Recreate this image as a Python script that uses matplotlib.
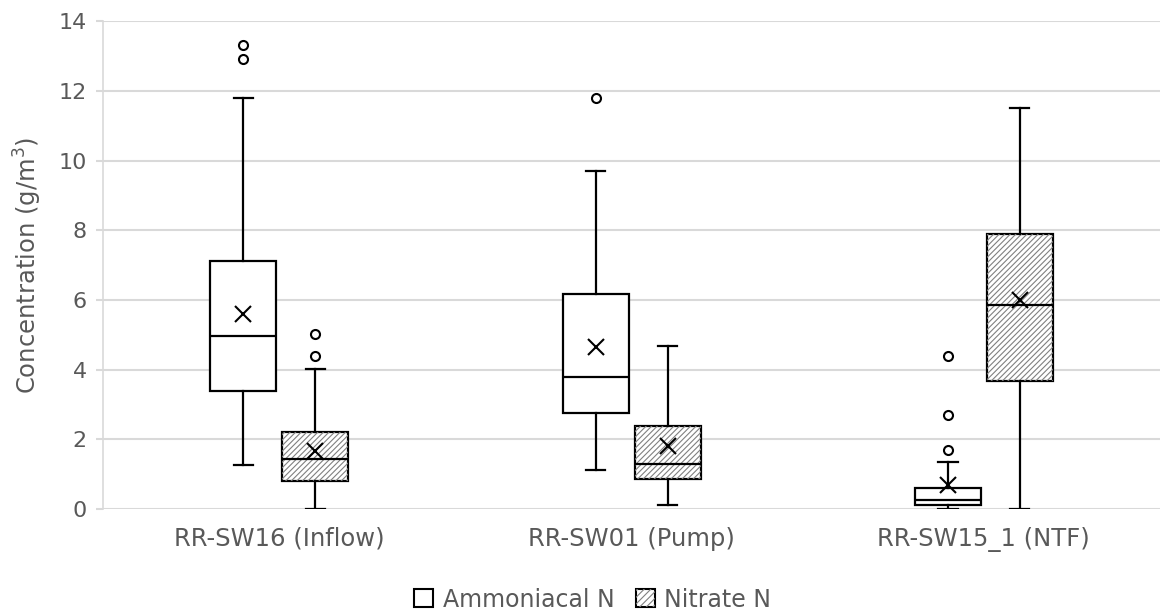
import numpy as np
import matplotlib.pyplot as plt
from matplotlib.patches import Patch, PathPatch
from matplotlib.legend_handler import HandlerTuple

# Datos (g/m3)
categories = ["RR-SW16 (Inflow)", "RR-SW01 (Pump)", "RR-SW15_1 (NTF)"]

amm_q1 = [3.39, 2.75, 0.10]
amm_med = [4.95, 3.80, 0.24]
amm_q3 = [7.12, 6.17, 0.61]
amm_lo = [1.26, 1.11, 0.00]
amm_hi = [11.80, 9.71, 1.33]
amm_mean = [5.60, 4.64, 0.69]
amm_out = [[12.91, 13.33], [11.81], [1.70, 2.70, 4.40]]

nit_q1 = [0.81, 0.85, 3.66]
nit_med = [1.43, 1.28, 5.86]
nit_q3 = [2.20, 2.39, 7.88]
nit_lo = [0.00, 0.11, 0.00]
nit_hi = [4.01, 4.69, 11.51]
nit_mean = [1.65, 1.81, 6.00]
nit_out = [[4.40, 5.01], [], []]

TEXT = "#595959"
GRID = "#d9d9d9"
HATCH = "#808080"

plt.rcParams["font.family"] = ["DejaVu Sans"]
plt.rcParams["hatch.linewidth"] = 0.8


def make_stats(q1, med, q3, lo, hi, mean, out):
    stats = []
    for i in range(len(q1)):
        stats.append({"q1": q1[i], "med": med[i], "q3": q3[i],
                      "whislo": lo[i], "whishi": hi[i],
                      "mean": mean[i], "fliers": out[i]})
    return stats


fig = plt.figure(figsize=(11.6, 6.13), dpi=100)
ax = fig.add_axes([0.089, 0.170, 0.911, 0.795])

x = np.arange(len(categories))
offset = 0.102
width = 0.1875

common = dict(
    widths=width, showmeans=True, patch_artist=True, capwidths=0.055,
    boxprops=dict(facecolor="white", edgecolor="black", linewidth=1.6, zorder=2),
    medianprops=dict(color="black", linewidth=1.6, zorder=3),
    whiskerprops=dict(color="black", linewidth=1.6, zorder=3),
    capprops=dict(color="black", linewidth=1.6, zorder=3),
    meanprops=dict(marker="x", markeredgecolor="black", markersize=11,
                   markeredgewidth=1.5, zorder=4),
    flierprops=dict(marker="o", markerfacecolor="white", markeredgecolor="black",
                    markersize=6.5, markeredgewidth=1.5, zorder=4),
)

ax.bxp(make_stats(amm_q1, amm_med, amm_q3, amm_lo, amm_hi, amm_mean, amm_out),
       positions=x - offset, **common)
nit = ax.bxp(make_stats(nit_q1, nit_med, nit_q3, nit_lo, nit_hi, nit_mean, nit_out),
             positions=x + offset, **common)

# rayado gris encima del relleno blanco
for box in nit["boxes"]:
    ax.add_patch(PathPatch(box.get_path(), facecolor="none", edgecolor=HATCH,
                           hatch="//////", linewidth=0, zorder=2.1))

ax.set_xlim(-0.5, 2.5)
ax.set_ylim(0, 14)
ax.set_yticks(np.arange(0, 15, 2))
ax.set_xticks(x)
ax.set_xticklabels(categories)

ax.grid(axis="y", color=GRID, linewidth=1.5, zorder=0)
ax.set_axisbelow(True)
for s in ["top", "right", "bottom"]:
    ax.spines[s].set_visible(False)
ax.spines["left"].set_color(GRID)
ax.spines["left"].set_linewidth(1.2)

ax.tick_params(axis="y", colors=TEXT, labelsize=16, length=5, color=GRID, width=1.5, pad=7)
ax.tick_params(axis="x", colors=TEXT, labelsize=17.5, length=0, pad=13)
ax.set_ylabel("Concentration (g/m$^3$)", fontsize=17.5, color=TEXT, labelpad=10)

handles = [Patch(facecolor="white", edgecolor="black", linewidth=1.5),
           (Patch(facecolor="white", edgecolor="black", linewidth=1.5),
            Patch(facecolor="none", edgecolor=HATCH, hatch="/////", linewidth=0))]
fig.legend(handles, ["Ammoniacal N", "Nitrate N"], loc="center",
           bbox_to_anchor=(0.511, 0.022), ncol=2, frameon=False, fontsize=17,
           labelcolor=TEXT, handlelength=0.8, handleheight=0.8,
           handletextpad=0.4, columnspacing=0.9,
           handler_map={tuple: HandlerTuple(ndivide=1, pad=0)})

fig.savefig("out.png", dpi=100)
